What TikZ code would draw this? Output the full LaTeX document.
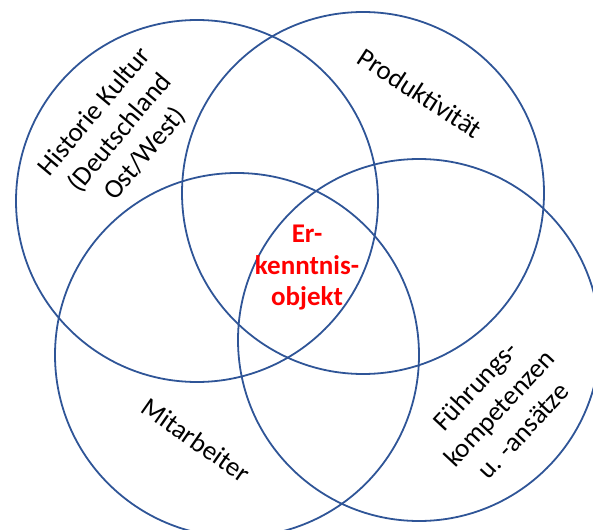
\documentclass[tikz,border=0pt]{standalone}
\usepackage{fontspec}
\setmainfont{Carlito}
\definecolor{ringblue}{HTML}{2F5597}
\definecolor{keyred}{HTML}{FF0000}
\tikzset{
  ring/.style={circle, draw=ringblue, line width=1.8pt, inner sep=0pt},
  lbl/.style={align=center, text=black, inner sep=0pt, font=\fontsize{27}{33}\selectfont},
  keylbl/.style={align=center, text=keyred, inner sep=0pt, font=\bfseries\fontsize{27}{31.5}\selectfont}
}
\begin{document}
\begin{tikzpicture}[x=1pt, y=-1pt]
\useasboundingbox (0,0) rectangle (593,529);
\node[ring, minimum size=362pt] (c1) at (197,201) {};
\node[ring, minimum size=362pt] (c2) at (363,193) {};
\node[ring, minimum size=364pt] (c3) at (237,355) {};
\node[ring, minimum size=362pt] (c4) at (419,340) {};
\node[lbl, rotate=50] (hist) at (120,133) {Historie Kultur\\(Deutschland\\Ost/West)};
\node[lbl, rotate=-33] (prod) at (420,93) {Produktivität};
\node[lbl, rotate=-35] (mit) at (196,440) {Mitarbeiter};
\node[lbl, rotate=47] (fuehr) at (499,408) {Führungs-\\kompetenzen\\u. -ansätze};
\node[keylbl] (obj) at (307,268) {Er-\\kenntnis-\\objekt};
\end{tikzpicture}
\end{document}
